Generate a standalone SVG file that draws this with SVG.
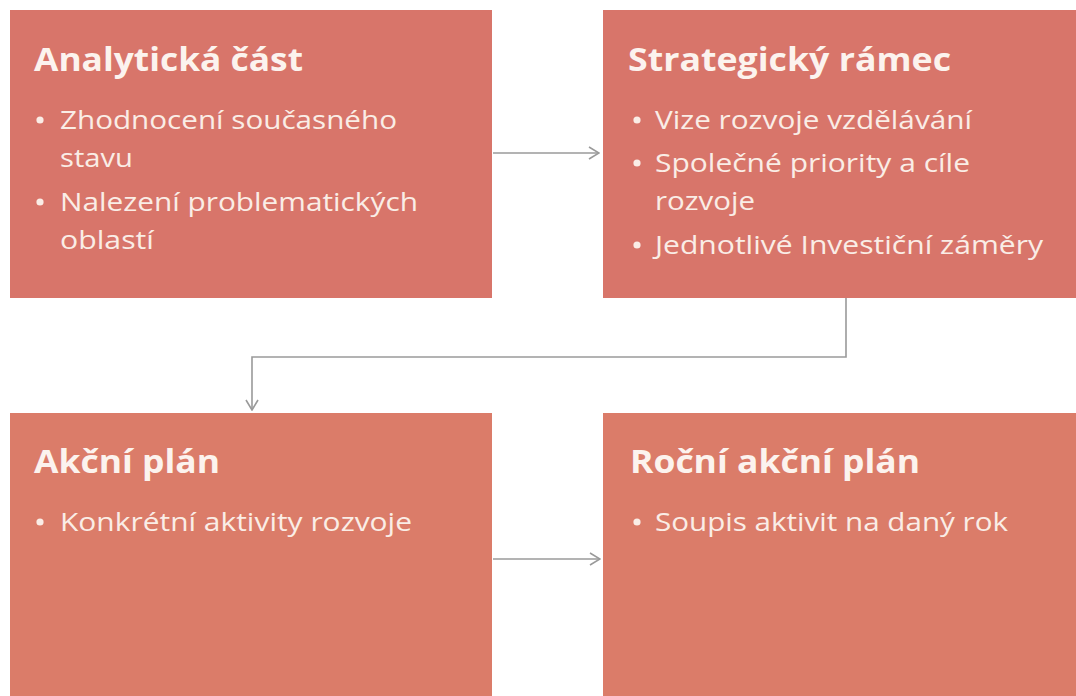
<svg xmlns="http://www.w3.org/2000/svg" width="1076" height="696" viewBox="0 0 1076 696">
  <style>
    .box { fill: #D8756A; }
    .box2 { fill: #DB7C69; }
    .title { font-family: "Open Sans", "Noto Sans", sans-serif; font-weight: bold; font-size: 32px; fill: #FCF3EE; }
    .item { font-family: "Open Sans", "Noto Sans", sans-serif; font-size: 25px; fill: #FAEDE6; }
    .dot { fill: #FAEDE6; }
    .conn { fill: none; stroke: #9A9A9A; stroke-width: 1.6; }
  </style>
  <defs>
    <marker id="arrow" viewBox="0 0 12 14" refX="11" refY="7" markerWidth="12" markerHeight="14" markerUnits="userSpaceOnUse" orient="auto">
      <path d="M1,1 L11,7 L1,13" fill="none" stroke="#9A9A9A" stroke-width="1.6"/>
    </marker>
  </defs>
  <rect width="1076" height="696" fill="#FFFFFF"/>

  <g id="connectors">
    <path class="conn" d="M493,153 H599" marker-end="url(#arrow)"/>
    <path class="conn" d="M846,298 V357 H252 V410" marker-end="url(#arrow)"/>
    <path class="conn" d="M493,559 H600" marker-end="url(#arrow)"/>
  </g>

  <g id="analyticka">
    <rect class="box" x="10" y="10" width="482" height="288"/>
    <text class="title" x="34" y="71" textLength="269" lengthAdjust="spacingAndGlyphs">Analytická část</text>
    <circle class="dot" cx="40" cy="120" r="3.6"/>
    <text class="item" x="60" y="129" textLength="337" lengthAdjust="spacingAndGlyphs">Zhodnocení současného</text>
    <text class="item" x="60" y="167" textLength="73" lengthAdjust="spacingAndGlyphs">stavu</text>
    <circle class="dot" cx="40" cy="202" r="3.6"/>
    <text class="item" x="60" y="211" textLength="358" lengthAdjust="spacingAndGlyphs">Nalezení problematických</text>
    <text class="item" x="60" y="249" textLength="94" lengthAdjust="spacingAndGlyphs">oblastí</text>
  </g>

  <g id="strategicky">
    <rect class="box" x="603" y="10" width="473" height="288"/>
    <text class="title" x="628" y="71" textLength="323" lengthAdjust="spacingAndGlyphs">Strategický rámec</text>
    <circle class="dot" cx="637" cy="120" r="3.6"/>
    <text class="item" x="655" y="129" textLength="317" lengthAdjust="spacingAndGlyphs">Vize rozvoje vzdělávání</text>
    <circle class="dot" cx="637" cy="163" r="3.6"/>
    <text class="item" x="655" y="172" textLength="315" lengthAdjust="spacingAndGlyphs">Společné priority a cíle</text>
    <text class="item" x="655" y="210" textLength="100" lengthAdjust="spacingAndGlyphs">rozvoje</text>
    <circle class="dot" cx="637" cy="245" r="3.6"/>
    <text class="item" x="655" y="254" textLength="388" lengthAdjust="spacingAndGlyphs">Jednotlivé Investiční záměry</text>
  </g>

  <g id="akcni">
    <rect class="box2" x="10" y="413" width="482" height="283"/>
    <text class="title" x="34" y="473" textLength="186" lengthAdjust="spacingAndGlyphs">Akční plán</text>
    <circle class="dot" cx="40" cy="522" r="3.6"/>
    <text class="item" x="60" y="531" textLength="352" lengthAdjust="spacingAndGlyphs">Konkrétní aktivity rozvoje</text>
  </g>

  <g id="rocni">
    <rect class="box2" x="603" y="413" width="473" height="283"/>
    <text class="title" x="630" y="473" textLength="290" lengthAdjust="spacingAndGlyphs">Roční akční plán</text>
    <circle class="dot" cx="637" cy="522" r="3.6"/>
    <text class="item" x="655" y="531" textLength="353" lengthAdjust="spacingAndGlyphs">Soupis aktivit na daný rok</text>
  </g>
</svg>
